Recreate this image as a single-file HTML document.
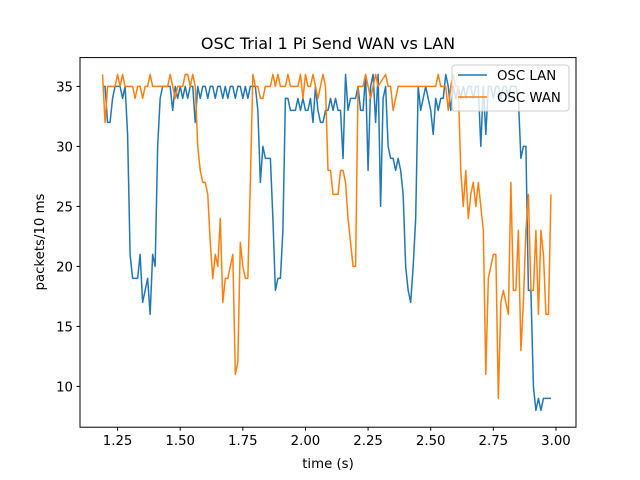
<!DOCTYPE html>
<html><head><meta charset="utf-8">
<style>
body{margin:0;background:#fff;}
svg{display:block;font-family:"DejaVu Sans","Liberation Sans",sans-serif;}
</style></head>
<body>
<svg id="chart" width="640" height="480" xmlns="http://www.w3.org/2000/svg">
<rect width="640" height="480" fill="#fff"/>
<text x="328" y="49" font-size="16" text-anchor="middle">OSC Trial 1 Pi Send WAN vs LAN</text>
<text x="328" y="468" font-size="13.3" text-anchor="middle">time (s)</text>
<text transform="translate(44,242) rotate(-90)" font-size="13.3" text-anchor="middle">packets/10 ms</text>
<defs><clipPath id="pc"><rect x="80" y="57.6" width="496" height="369.6"/></clipPath></defs>
<g id="ticks"></g>
<g id="series" clip-path="url(#pc)"></g>
<rect x="80" y="57.6" width="496" height="369.6" fill="none" stroke="#000" stroke-width="1"/>
<g>
<rect x="452" y="65" width="117" height="46" rx="3" fill="rgba(255,255,255,0.8)" stroke="#ccc" stroke-width="1"/>
<line x1="458" y1="75" x2="487" y2="75" stroke="#1f77b4" stroke-width="1.5"/>
<text x="497" y="80" font-size="13.3">OSC LAN</text>
<line x1="458" y1="97" x2="487" y2="97" stroke="#ff7f0e" stroke-width="1.5"/>
<text x="497" y="102" font-size="13.3">OSC WAN</text>
</g>
</svg>
<script>
const xTicks=[1.25,1.50,1.75,2.00,2.25,2.50,2.75,3.00];
const yTicks=[10,15,20,25,30,35];
const lanT=[1.19,1.20,1.21,1.22,1.23,1.24,1.25,1.26,1.27,1.28,1.29,1.30,1.31,1.32,1.33,1.34,1.35,1.36,1.37,1.38,1.39,1.40,1.41,1.42,1.43,1.44,1.45,1.46,1.47,1.48,1.49,1.50,1.51,1.52,1.53,1.54,1.55,1.56,1.57,1.58,1.59,1.60,1.61,1.62,1.63,1.64,1.65,1.66,1.67,1.68,1.69,1.70,1.71,1.72,1.73,1.74,1.75,1.76,1.77,1.78,1.79,1.80,1.81,1.82,1.83,1.84,1.85,1.86,1.87,1.88,1.89,1.90,1.91,1.92,1.93,1.94,1.95,1.96,1.97,1.98,1.99,2.00,2.01,2.02,2.03,2.04,2.05,2.06,2.07,2.08,2.09,2.10,2.11,2.12,2.13,2.14,2.15,2.16,2.17,2.18,2.19,2.20,2.21,2.22,2.23,2.24,2.25,2.26,2.27,2.28,2.29,2.30,2.31,2.32,2.33,2.34,2.35,2.36,2.37,2.38,2.39,2.40,2.41,2.42,2.43,2.44,2.45,2.46,2.47,2.48,2.49,2.50,2.51,2.52,2.53,2.54,2.55,2.56,2.57,2.58,2.59,2.60,2.61,2.62,2.63,2.64,2.65,2.66,2.67,2.68,2.69,2.70,2.71,2.72,2.73,2.74,2.75,2.76,2.77,2.78,2.79,2.80,2.81,2.82,2.83,2.84,2.85,2.86,2.87,2.88,2.89,2.90,2.91,2.92,2.93,2.94,2.95,2.96,2.97,2.98];
const lanV=[35,35,32,32,34,35,35,35,34,35,31,21,19,19,19,21,17,18,19,16,21,20,30,34,35,35,35,35,33,35,34,35,34,35,34,35,35,32,35,34,35,35,34,35,35,34,35,35,34,35,34,35,35,34,35,35,34,35,34,35,35,35,33,27,30,29,29,29,24,18,19,19,23,34,34,33,33,33,34,33,34,33,33,34,32,35,33,32,32,33,33,34,33,34,33,33,29,36,33,34,34,34,35,33,33,36,28,35,36,32,36,25,34,35,30,29,29,28,29,28,26,20,18,17,20,24,35,33,34,35,34,33,31,34,33,34,34,36,35,33,35,34,35,34,35,34,35,35,34,35,35,30,35,31,35,35,34,35,35,34,35,35,34,35,35,35,34,29,30,30,18,18,10,8,9,8,9,9,9,9];
const wanT=[1.19,1.20,1.21,1.24,1.25,1.26,1.27,1.28,1.31,1.32,1.33,1.34,1.35,1.36,1.37,1.38,1.39,1.45,1.46,1.47,1.48,1.49,1.51,1.52,1.53,1.54,1.55,1.56,1.57,1.58,1.59,1.60,1.61,1.62,1.63,1.64,1.65,1.66,1.67,1.68,1.69,1.70,1.71,1.72,1.73,1.74,1.75,1.76,1.77,1.78,1.79,1.80,1.81,1.82,1.83,1.84,1.86,1.87,1.88,1.89,1.90,1.92,1.93,1.94,1.97,1.98,1.99,2.00,2.01,2.02,2.03,2.04,2.05,2.06,2.07,2.08,2.09,2.10,2.11,2.12,2.13,2.14,2.15,2.16,2.17,2.19,2.20,2.21,2.23,2.24,2.25,2.26,2.27,2.28,2.29,2.32,2.33,2.34,2.35,2.37,2.38,2.39,2.40,2.41,2.42,2.43,2.44,2.45,2.46,2.47,2.48,2.49,2.50,2.51,2.52,2.53,2.54,2.55,2.56,2.57,2.58,2.59,2.60,2.61,2.62,2.63,2.64,2.65,2.66,2.67,2.68,2.69,2.70,2.71,2.72,2.73,2.74,2.75,2.76,2.77,2.78,2.79,2.80,2.81,2.82,2.83,2.84,2.85,2.86,2.87,2.88,2.89,2.90,2.91,2.92,2.93,2.94,2.95,2.96,2.97,2.98,2.99];
const wanV=[36,32,35,35,36,35,36,35,35,34,35,35,34,35,35,36,35,35,36,35,34,35,35,36,36,35,36,35,30,28,27,27,26,22,19,21,20,24,17,19,19,20,21,11,12,22,20,19,19,27,36,35,35,34,34,35,35,36,35,36,35,35,36,35,35,36,34,36,35,35,36,35,34,35,36,35,28,28,26,26,26,28,28,27,24,20,20,35,35,36,35,34,35,36,35,36,35,35,33,35,35,35,35,35,35,35,35,35,35,35,35,35,35,35,35,36,35,35,35,33,35,36,35,35,28,25,28,24,26,27,25,27,25,23,11,19,20,21,21,9,17,18,17,16,27,18,18,23,13,17,23,26,18,18,23,16,23,21,16,16,26];
const ns="http://www.w3.org/2000/svg";
function xs(t){return 80+(t-1.10)/(3.08-1.10)*496;}
function ys(v){return 427.2-(v-6.6)/(37.4-6.6)*369.6;}
const tg=document.getElementById('ticks');
xTicks.forEach(t=>{
  const l=document.createElementNS(ns,'line');
  
  
  l.setAttribute('x1',xs(t));l.setAttribute('x2',xs(t));l.setAttribute('y1',427.2);l.setAttribute('y2',430.7);l.setAttribute('stroke','#000');
  tg.appendChild(l);
  const tx=document.createElementNS(ns,'text');
  
  
  tx.setAttribute('x',xs(t));tx.setAttribute('y',445);tx.setAttribute('font-size','13.3');tx.setAttribute('text-anchor','middle');
  tx.textContent=t.toFixed(2);tg.appendChild(tx);
});
yTicks.forEach(v=>{
  const l=document.createElementNS(ns,'line');
  
  
  l.setAttribute('x1',76.5);l.setAttribute('x2',80);l.setAttribute('y1',ys(v));l.setAttribute('y2',ys(v));l.setAttribute('stroke','#000');
  tg.appendChild(l);
  const tx=document.createElementNS(ns,'text');
  
  
  tx.setAttribute('x',73);tx.setAttribute('y',ys(v)+5);tx.setAttribute('font-size','13.3');tx.setAttribute('text-anchor','end');
  tx.textContent=v;tg.appendChild(tx);
});
const sg=document.getElementById('series');
function draw(T,V,color,name){
  const p=document.createElementNS(ns,'polyline');
  
  
  const pts=[];
  for(let i=0;i<T.length;i++){ if(V[i]!==undefined) pts.push(xs(T[i]).toFixed(2)+','+ys(V[i]).toFixed(2)); }
  p.setAttribute('points',pts.join(' '));
  p.setAttribute('fill','none');p.setAttribute('stroke',color);p.setAttribute('stroke-width','1.5');p.setAttribute('stroke-linejoin','round');
  sg.appendChild(p);
}
draw(lanT,lanV,'#1f77b4','osc-lan-line');
draw(wanT,wanV,'#ff7f0e','osc-wan-line');
</script>
</body></html>
